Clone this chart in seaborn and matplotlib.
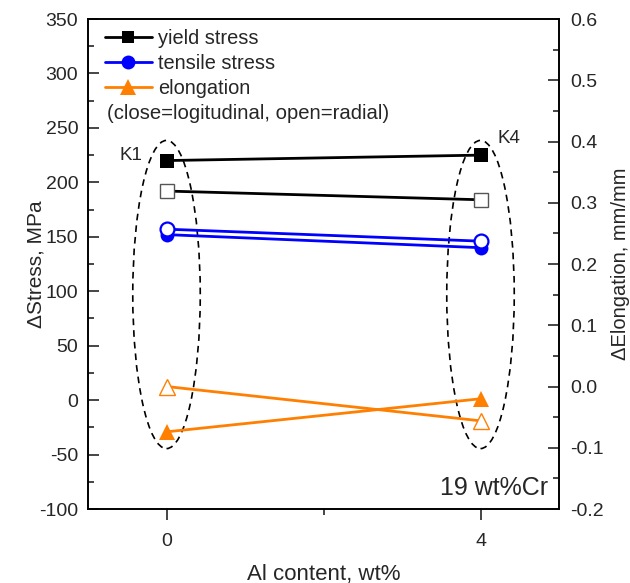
import matplotlib
matplotlib.use("Agg")
import matplotlib.pyplot as plt
import seaborn as sns
import numpy as np
from matplotlib.patches import Ellipse
from matplotlib.lines import Line2D
from matplotlib.ticker import MultipleLocator, FixedLocator, FuncFormatter

sns.set_theme(style="white")
plt.rcParams['font.family'] = ['Liberation Sans', 'DejaVu Sans']
plt.rcParams['axes.unicode_minus'] = False

# ---- data ----
al_content = [0, 4]
yield_long = [220, 225]
yield_rad = [192, 184]
tensile_long = [152, 140]
tensile_rad = [157, 146]
elong_long = [-0.074, -0.020]
elong_rad = [0.000, -0.056]
sample_labels = ["K1", "K4"]
legend_labels = ["yield stress", "tensile stress", "elongation"]

BLUE = "#0000ff"
ORANGE = "#ff7f00"

fig = plt.figure(figsize=(6.30, 5.83), dpi=100)
ax = fig.add_axes([0.1397, 0.1269, 0.8873 - 0.1397, 0.9674 - 0.1269])
ax2 = ax.twinx()

lw = 2.0
ms = 10
sns.lineplot(x=al_content, y=yield_long, ax=ax, color="black", lw=lw,
             marker="s", markersize=ms, markerfacecolor="black",
             markeredgecolor="black", markeredgewidth=0)
sns.lineplot(x=al_content, y=yield_rad, ax=ax, color="black", lw=lw,
             marker="s", markersize=ms, markerfacecolor="white",
             markeredgecolor="#555555", markeredgewidth=1)
sns.lineplot(x=al_content, y=tensile_long, ax=ax, color=BLUE, lw=lw,
             marker="o", markersize=ms, markerfacecolor=BLUE,
             markeredgecolor=BLUE, markeredgewidth=0)
sns.lineplot(x=al_content, y=tensile_rad, ax=ax, color=BLUE, lw=lw,
             marker="o", markersize=ms, markerfacecolor="white",
             markeredgecolor=BLUE, markeredgewidth=1.6)
sns.lineplot(x=al_content, y=elong_long, ax=ax2, color=ORANGE, lw=lw,
             marker="^", markersize=ms + 2, markerfacecolor=ORANGE,
             markeredgecolor=ORANGE, markeredgewidth=0)
sns.lineplot(x=al_content, y=elong_rad, ax=ax2, color=ORANGE, lw=lw,
             marker="^", markersize=ms + 2, markerfacecolor="white",
             markeredgecolor=ORANGE, markeredgewidth=1)

# dashed ellipses around samples
for xc in al_content:
    e = Ellipse((xc, 97), width=0.86, height=283, fill=False,
                ls=(0, (4, 3)), lw=1.2, edgecolor="black", zorder=1)
    ax.add_patch(e)

ax.set_xlim(-1, 5)
ax.set_ylim(-100, 350)
ax2.set_ylim(-0.2, 0.6)

fs_tick = 14
ax.xaxis.set_major_locator(FixedLocator(al_content))
ax.xaxis.set_minor_locator(FixedLocator([2]))
ax.yaxis.set_major_locator(MultipleLocator(50))
ax.yaxis.set_minor_locator(MultipleLocator(25))
ax2.yaxis.set_major_locator(MultipleLocator(0.1))
ax2.yaxis.set_minor_locator(MultipleLocator(0.05))
ax.yaxis.set_major_formatter(FuncFormatter(lambda v, p: f"{v:.0f}"))
ax.xaxis.set_major_formatter(FuncFormatter(lambda v, p: f"{v:.0f}"))
ax2.yaxis.set_major_formatter(FuncFormatter(lambda v, p: f"{v:.1f}" if abs(v) > 1e-9 else "0.0"))

ax.tick_params(axis="x", which="major", direction="out", length=8, width=1.2,
               labelsize=fs_tick, pad=9, bottom=True, top=False)
ax.tick_params(axis="x", which="minor", direction="out", length=4, width=1.2,
               bottom=True, top=False)
ax.tick_params(axis="y", which="major", direction="in", length=8, width=1.2,
               labelsize=fs_tick, pad=7, left=True, right=False)
ax.tick_params(axis="y", which="minor", direction="in", length=4, width=1.2,
               left=True, right=False)
ax2.tick_params(axis="y", which="major", direction="in", length=8, width=1.2,
                labelsize=fs_tick, pad=8, right=True, left=False)
ax2.tick_params(axis="y", which="minor", direction="in", length=4, width=1.2,
                right=True, left=False)

for a in (ax, ax2):
    for s in a.spines.values():
        s.set_color("black")
        s.set_linewidth(1.2)

ax.set_xlabel("Al content, wt%", fontsize=16, labelpad=10)
ax.set_ylabel("\u0394Stress, MPa", fontsize=15)
ax.yaxis.set_label_coords(-0.09, 0.5)
ax2.set_ylabel("\u0394Elongation, mm/mm", fontsize=14.5, labelpad=5)

# labels
ax.text(al_content[0] - 0.45, 225, sample_labels[0], fontsize=13.5, ha="center", va="center")
ax.text(al_content[1] + 0.36, 240, sample_labels[1], fontsize=13.5, ha="center", va="center")
ax.text(0.977, 0.029, "19 wt%Cr", transform=ax.transAxes, fontsize=18,
        ha="right", va="baseline")

handles = [
    Line2D([], [], color="black", lw=lw, marker="s", markersize=9, markeredgewidth=0),
    Line2D([], [], color=BLUE, lw=lw, marker="o", markersize=10, markeredgewidth=0),
    Line2D([], [], color=ORANGE, lw=lw, marker="^", markersize=11, markeredgewidth=0),
]
leg = ax.legend(handles, legend_labels,
                loc="upper left", bbox_to_anchor=(0.036, 0.98), frameon=False,
                fontsize=14.4, handlelength=2.35, handletextpad=0.3,
                labelspacing=0.3, borderaxespad=0, borderpad=0)
ax.text(0.04, (509 - 113) / 490, "(close=logitudinal, open=radial)", transform=ax.transAxes,
        fontsize=14.6, ha="left", va="center")

fig.savefig("out.png", dpi=100)
